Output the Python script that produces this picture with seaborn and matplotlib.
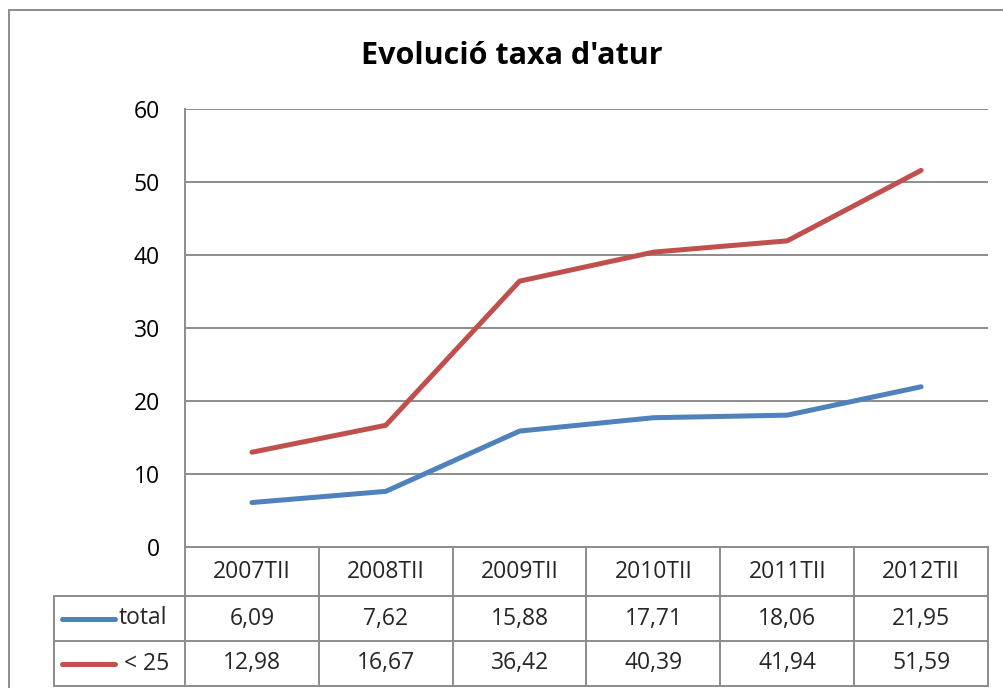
import matplotlib
matplotlib.use("Agg")
import matplotlib.pyplot as plt
import seaborn as sns

# Data
periods = ['2007TII', '2008TII', '2009TII', '2010TII', '2011TII', '2012TII']
total = [6.09, 7.62, 15.88, 17.71, 18.06, 21.95]
under25 = [12.98, 16.67, 36.42, 40.39, 41.94, 51.59]
series_names = ['total', '< 25']
colors = ['#4F81BD', '#C0504D']

sns.set_theme(style='white')
plt.rcParams['font.family'] = ['Open Sans', 'DejaVu Sans']

W, H = 1004, 688
fig = plt.figure(figsize=(W / 100, H / 100), dpi=100)

# plot area in pixel terms
left, right, top, bottom = 185, 988, 109, 547
ax = fig.add_axes([left / W, 1 - bottom / H, (right - left) / W, (bottom - top) / H])

xs = list(range(len(periods)))
for vals, name, col in zip([total, under25], series_names, colors):
    sns.lineplot(x=xs, y=vals, ax=ax, color=col, linewidth=3.6, label=name,
                 solid_capstyle='round')
ax.legend_.remove()

ax.set_xlim(-0.5, len(periods) - 0.5)
ax.set_ylim(0, 60)
ax.set_yticks(range(0, 61, 10))
ax.set_xticks([])
ax.tick_params(axis='y', length=0, pad=18, labelsize=16.5, labelcolor='black')
ax.grid(axis='y', color='#8c8c8c', linewidth=1.4)
ax.grid(axis='x', visible=False)
for s in ['top', 'right', 'bottom']:
    ax.spines[s].set_visible(False)
ax.spines['left'].set_color('#8c8c8c')
ax.spines['left'].set_linewidth(1.4)

# overlay in pixel coordinates for the data table and chart border
ov = fig.add_axes([0, 0, 1, 1])
ov.set_xlim(0, W)
ov.set_ylim(H, 0)
ov.axis('off')
ov.patch.set_alpha(0)

gc = '#8c8c8c'
lw = 1.4
# chart border (cut at right/bottom)
ov.plot([9, 9], [10, H], color=gc, lw=lw)
ov.plot([9, W], [10, 10], color=gc, lw=lw)

ov.text(512, 56, "Evolució taxa d'atur", ha='center', va='center',
        fontsize=22, fontweight='bold', color='black')

tab_left = 54
row_y = [547, 596, 641, 686]
ncol = len(periods)
cw = (right - left) / ncol
col_x = [left + i * cw for i in range(ncol + 1)]

# horizontal lines
ov.plot([left, right], [row_y[0], row_y[0]], color=gc, lw=lw)
for y in row_y[1:]:
    ov.plot([tab_left, right], [y, y], color=gc, lw=lw)
# vertical lines
for x in col_x:
    ov.plot([x, x], [row_y[0], row_y[-1]], color=gc, lw=lw)
ov.plot([tab_left, tab_left], [row_y[1], row_y[-1]], color=gc, lw=lw)

fs = 16.5
for i, p in enumerate(periods):
    cx = (col_x[i] + col_x[i + 1]) / 2
    ov.text(cx, (row_y[0] + row_y[1]) / 2, p, ha='center', va='center', fontsize=fs)
    for r, vals in enumerate([total, under25]):
        ov.text(cx, (row_y[r + 1] + row_y[r + 2]) / 2, f"{vals[i]:.2f}".replace('.', ','),
                ha='center', va='center', fontsize=fs)

# legend keys inside the table
for r, (name, col) in enumerate(zip(series_names, colors)):
    cy = (row_y[r + 1] + row_y[r + 2]) / 2
    ov.plot([62, 115], [cy, cy], color=col, lw=3.6, solid_capstyle='round')
    ov.text(119 if r == 0 else 124, cy, name, ha='left', va='center', fontsize=fs)

fig.savefig('out.png', dpi=100, facecolor='white')
